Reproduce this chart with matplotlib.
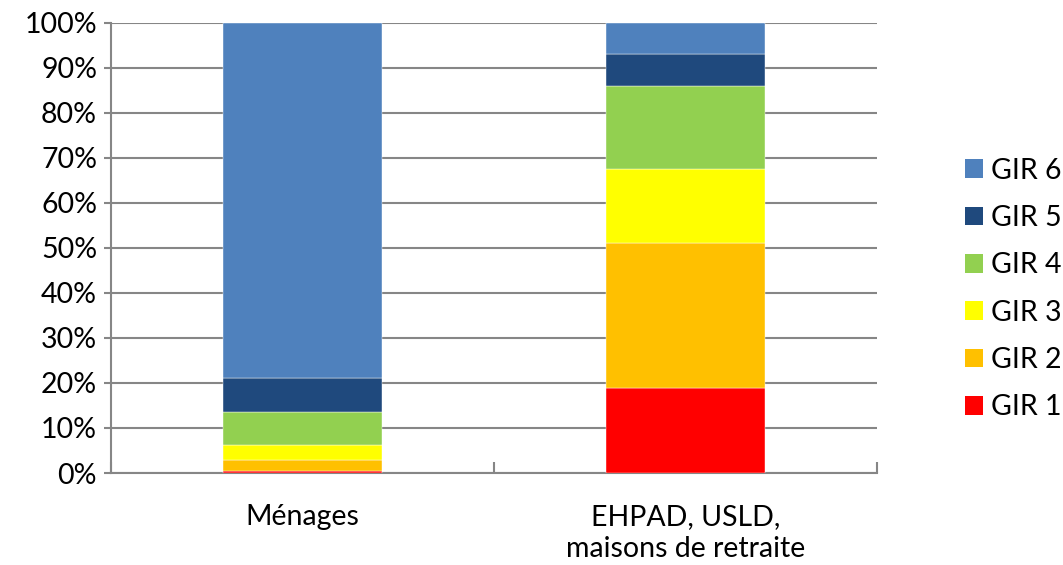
import matplotlib
matplotlib.use("Agg")
import matplotlib.pyplot as plt
from matplotlib.patches import Patch
import numpy as np

plt.rcParams['font.family'] = ['Lato', 'DejaVu Sans']

categories = ["Ménages", "EHPAD, USLD,\nmaisons de retraite"]
series_names = ["GIR 1", "GIR 2", "GIR 3", "GIR 4", "GIR 5", "GIR 6"]
gir1 = [0.4, 18.9]
gir2 = [2.5, 32.1]
gir3 = [3.4, 16.4]
gir4 = [7.2, 18.5]
gir5 = [7.6, 7.1]
gir6 = [78.9, 7.0]
series_values = [gir1, gir2, gir3, gir4, gir5, gir6]
colors = ["#FF0000", "#FFC000", "#FFFF00", "#92D050", "#1F497D", "#4F81BD"]
yticks = [0, 10, 20, 30, 40, 50, 60, 70, 80, 90, 100]

FS = 20.5

fig = plt.figure(figsize=(10.63, 5.65), dpi=100)
ax = fig.add_axes([111 / 1063, 1 - 473 / 565, (877 - 111) / 1063, (473 - 22.7) / 565])

grid_color = "#868686"
x = np.arange(len(categories))
bottom = np.zeros(len(categories))
for vals, col in zip(series_values, colors):
    vals = np.array(vals, dtype=float)
    ax.bar(x, vals, width=0.417, bottom=bottom, color=col, zorder=3,
           edgecolor="white", linewidth=0.3)
    bottom += vals

ax.set_xlim(-0.5, 1.5)
ax.set_ylim(0, 100)
ax.set_yticks(yticks)
ax.set_yticklabels([f"{t}%" for t in yticks])
ax.yaxis.grid(True, color=grid_color, linewidth=1.5, zorder=0)
ax.set_axisbelow(True)

# category labels centered under each bar, separator ticks between categories
ax.set_xticks(x)
ax.set_xticklabels(categories, fontsize=FS, linespacing=1.32)
ax.tick_params(axis="x", length=0, pad=22)
ax.set_xticks([-0.5, 0.5, 1.5], minor=True)
ax.tick_params(axis="x", which="minor", direction="in", length=8, width=1.5, color=grid_color)
ax.tick_params(axis="y", direction="out", length=5, width=1.5, color=grid_color,
               labelsize=FS, pad=5)

for side in ["top", "right"]:
    ax.spines[side].set_visible(False)
for side in ["left", "bottom"]:
    ax.spines[side].set_color(grid_color)
    ax.spines[side].set_linewidth(1.5)

handles = [Patch(facecolor=c, edgecolor="none") for c in colors]
fig.legend(handles[::-1], series_names[::-1], loc="center left",
           bbox_to_anchor=(965 / 1063, 1 - 289 / 565), frameon=False,
           fontsize=FS, handlelength=0.63, handleheight=0.63,
           handletextpad=0.28, labelspacing=0.75, borderpad=0, borderaxespad=0)

fig.savefig("out.png", dpi=100)
